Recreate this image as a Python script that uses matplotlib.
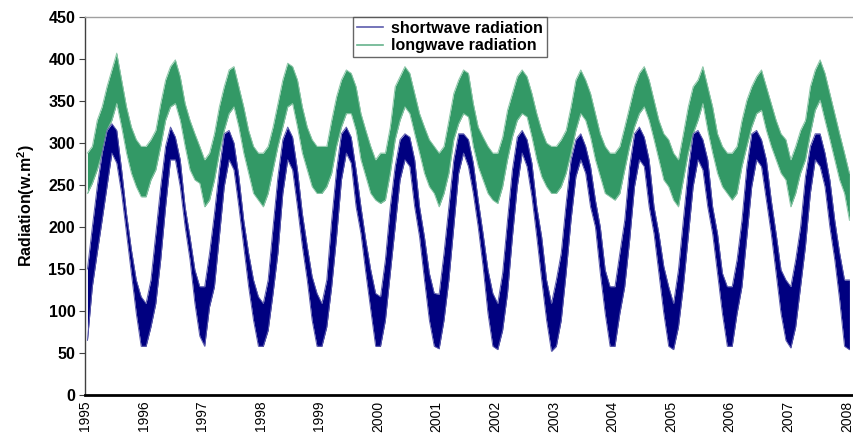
import matplotlib
matplotlib.use("Agg")
import matplotlib.pyplot as plt
from matplotlib.lines import Line2D
import numpy as np

plt.rcParams['font.family'] = ['Liberation Sans', 'DejaVu Sans']
plt.rcParams['mathtext.fontset'] = 'custom'
plt.rcParams['mathtext.rm'] = 'Liberation Sans'
plt.rcParams['mathtext.bf'] = 'Liberation Sans:bold'

series_names = ["shortwave radiation", "longwave radiation"]
start_year = 1995
year_ticks = list(range(1995, 2009))
y_ticks = [0, 50, 100, 150, 200, 250, 300, 350, 400, 450]

# monthly envelope of the daily values, Jan 1995 .. Jan 2008
sw_hi = [
    150, 200, 248, 288, 315, 323, 315, 268, 216, 173, 137, 117,
    109, 137, 192, 248, 296, 319, 307, 280, 224, 188, 149, 129,
    129, 169, 216, 268, 311, 315, 300, 260, 208, 169, 137, 117,
    109, 137, 200, 260, 304, 319, 307, 268, 216, 177, 141, 121,
    109, 137, 208, 268, 311, 319, 307, 268, 224, 184, 149, 121,
    117, 161, 224, 272, 304, 311, 307, 280, 224, 188, 145, 121,
    120, 169, 224, 280, 311, 311, 304, 276, 232, 192, 149, 121,
    109, 145, 208, 268, 307, 315, 304, 276, 224, 188, 137, 109,
    137, 169, 228, 280, 304, 311, 296, 272, 232, 200, 149, 129,
    129, 169, 208, 272, 311, 319, 307, 280, 224, 192, 153, 129,
    109, 149, 208, 268, 311, 315, 304, 280, 224, 192, 145, 129,
    129, 161, 208, 272, 311, 315, 304, 280, 232, 192, 149, 137,
    129, 161, 200, 260, 296, 311, 311, 288, 256, 208, 169, 137,
    137,
]
sw_lo = [
    65, 129, 169, 208, 248, 288, 276, 240, 192, 145, 97, 58,
    58, 81, 109, 161, 224, 280, 280, 248, 200, 161, 109, 70,
    58, 105, 129, 188, 248, 280, 268, 224, 177, 129, 89, 58,
    58, 77, 121, 169, 240, 280, 268, 224, 177, 137, 89, 58,
    58, 81, 129, 188, 256, 288, 276, 224, 192, 145, 101, 58,
    58, 89, 145, 200, 256, 280, 272, 224, 188, 137, 89, 58,
    55, 89, 137, 200, 264, 288, 272, 240, 200, 153, 97, 58,
    54, 77, 121, 188, 248, 288, 272, 236, 188, 137, 89, 52,
    58, 89, 145, 208, 260, 280, 264, 224, 200, 145, 97, 58,
    58, 97, 129, 184, 248, 280, 272, 224, 192, 145, 97, 58,
    54, 81, 129, 188, 248, 280, 268, 224, 192, 145, 97, 58,
    58, 97, 129, 188, 248, 280, 272, 232, 192, 145, 97, 65,
    56, 81, 129, 177, 240, 280, 272, 248, 200, 161, 113, 58,
    54,
]
lw_hi = [
    288, 296, 327, 343, 367, 387, 407, 375, 343, 319, 304, 296,
    296, 304, 315, 347, 375, 391, 399, 379, 347, 327, 311, 296,
    280, 288, 311, 343, 367, 387, 391, 367, 343, 315, 296, 288,
    288, 296, 319, 347, 375, 395, 391, 375, 343, 319, 304, 296,
    296, 296, 327, 355, 375, 387, 383, 367, 335, 315, 296, 280,
    288, 288, 319, 367, 379, 391, 383, 359, 335, 319, 304, 296,
    288, 296, 327, 359, 375, 387, 383, 347, 319, 307, 296, 288,
    288, 307, 339, 359, 379, 387, 379, 359, 335, 315, 300, 296,
    296, 304, 315, 343, 375, 387, 375, 359, 335, 311, 296, 288,
    288, 296, 319, 343, 367, 383, 391, 375, 351, 327, 311, 304,
    288, 280, 311, 343, 367, 375, 391, 367, 343, 311, 296, 288,
    288, 296, 327, 351, 367, 379, 387, 367, 347, 327, 311, 304,
    280, 296, 315, 327, 367, 387, 399, 383, 359, 335, 311, 288,
    264,
]
lw_lo = [
    240, 252, 268, 288, 315, 327, 347, 319, 288, 264, 248, 236,
    236, 256, 268, 296, 327, 343, 347, 327, 296, 268, 256, 252,
    224, 232, 256, 288, 315, 335, 343, 319, 288, 264, 240, 232,
    224, 240, 268, 296, 319, 343, 347, 319, 288, 268, 248, 240,
    240, 248, 264, 296, 319, 335, 335, 315, 280, 260, 240, 232,
    228, 232, 264, 304, 327, 343, 335, 311, 288, 264, 248, 240,
    224, 240, 264, 304, 323, 335, 331, 296, 272, 256, 240, 232,
    228, 248, 280, 307, 327, 335, 331, 307, 280, 260, 248, 240,
    240, 248, 264, 288, 315, 335, 327, 307, 280, 260, 240, 236,
    232, 240, 268, 296, 319, 335, 343, 327, 304, 280, 256, 248,
    232, 224, 256, 288, 311, 327, 347, 315, 288, 264, 248, 240,
    232, 240, 272, 296, 319, 335, 339, 315, 296, 280, 264, 256,
    224, 240, 264, 280, 311, 339, 351, 327, 304, 280, 256, 240,
    208,
]

sw_color = '#000080'
lw_color = '#339966'

t = start_year + (np.arange(len(sw_hi)) + 0.5) / 12.0

fig = plt.figure(figsize=(8.54, 4.36), dpi=100)
ax = fig.add_axes([85 / 854, 41 / 436, 769 / 854, 378 / 436])

ax.fill_between(t, lw_lo, lw_hi, color=lw_color, lw=0)
ax.plot(t, lw_hi, color='#8cc7a8', lw=0.7)
ax.plot(t, lw_lo, color='#8cc7a8', lw=0.7)
ax.fill_between(t, sw_lo, sw_hi, color=sw_color, lw=0)
ax.plot(t, sw_hi, color='#5c5cad', lw=0.7)
ax.plot(t, sw_lo, color='#5c5cad', lw=0.7)

ax.set_xlim(1995, 2008.12)
ax.set_ylim(0, 450)
ax.set_yticks(y_ticks)
ax.set_yticklabels([str(v) for v in y_ticks], fontweight='bold', fontsize=11.5)
ax.set_xticks(year_ticks)
ax.set_xticklabels([str(y) for y in year_ticks], rotation=90, fontsize=10)
ax.tick_params(axis='x', length=0, pad=4)
ax.tick_params(axis='y', length=4, width=0.8, color='#404040', pad=3)

ax.spines['right'].set_visible(False)
ax.spines['top'].set_color('#a0a0a0')
ax.spines['top'].set_linewidth(1.0)
ax.spines['left'].set_color('#404040')
ax.spines['left'].set_linewidth(1.0)
ax.spines['bottom'].set_color('black')
ax.spines['bottom'].set_linewidth(2.0)

ax.set_ylabel(r'Radiation(w.m$^{\mathbf{2}}$)', fontsize=11.5, fontweight='bold')
ax.yaxis.set_label_coords(-0.062, 0.5)

handles = [Line2D([], [], color='#5c5cad', lw=1.2),
           Line2D([], [], color='#66b38c', lw=1.2)]
leg = ax.legend(handles, series_names, loc='upper left',
                bbox_to_anchor=(0.349, 1.0), borderaxespad=0,
                fontsize=11.5, frameon=True, fancybox=False,
                edgecolor='#404040', handlelength=1.6, handletextpad=0.5,
                borderpad=0.25, labelspacing=0.15)
leg.get_frame().set_linewidth(1.0)
for txt in leg.get_texts():
    txt.set_fontweight('bold')

fig.savefig('out.png', dpi=100, facecolor='white')
